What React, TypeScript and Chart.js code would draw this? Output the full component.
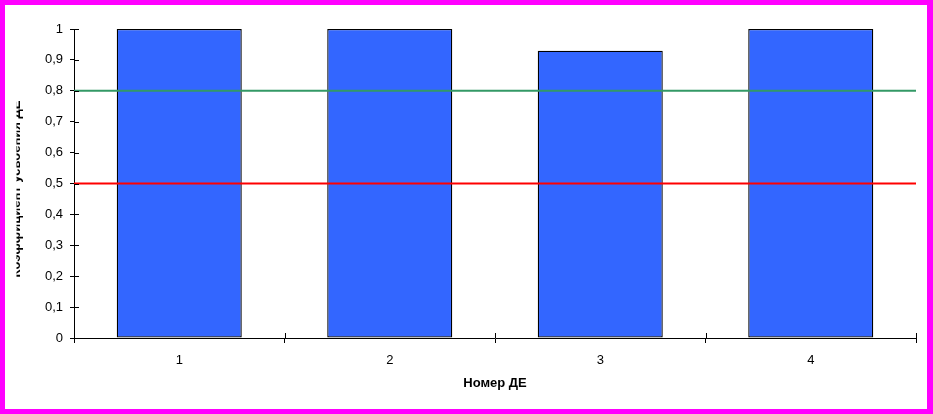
import React, { useEffect, useRef } from 'react';
import { Chart, registerables } from 'chart.js';

Chart.register(...registerables);

const categories = ['1', '2', '3', '4'];
const coefficients = [1, 1, 0.93, 1];
const upperThreshold = 0.8;
const lowerThreshold = 0.5;
const yTickLabels = ['0', '0,1', '0,2', '0,3', '0,4', '0,5', '0,6', '0,7', '0,8', '0,9', '1'];
const xTitle = 'Номер ДЕ';
const yTitle = 'Коэффициент усвоения ДЕ';

const FONT = '"Liberation Sans", Arial, sans-serif';

// value positions on the hidden linear axis: category i occupies [i, i+1]
const barPoints = coefficients.map((v, i) => ({ x: i + 0.5, y: v }));
const span = [0, categories.length];

const decorPlugin = {
  id: 'decor',
  afterDraw(chart: any) {
    const { ctx, chartArea, scales, width, height } = chart;
    ctx.save();
    // inward parts of the tick marks
    ctx.strokeStyle = '#000';
    ctx.lineWidth = 1;
    ctx.beginPath();
    scales.y.ticks.forEach((_t: any, i: number) => {
      const py = Math.round(scales.y.getPixelForTick(i)) + 0.5;
      ctx.moveTo(chartArea.left, py);
      ctx.lineTo(chartArea.left + 5, py);
    });
    for (let i = 0; i <= categories.length; i++) {
      const px = Math.round(scales.x.getPixelForValue(i - 0.5)) + 0.5;
      ctx.moveTo(px, chartArea.bottom);
      ctx.lineTo(px, chartArea.bottom - 5);
    }
    ctx.stroke();

    // clipped vertical axis title
    ctx.save();
    ctx.beginPath();
    ctx.rect(16.5, 0, 60, height);
    ctx.clip();
    ctx.translate(19.5, 189);
    ctx.rotate(-Math.PI / 2);
    ctx.font = 'bold 13px ' + FONT;
    ctx.fillStyle = '#000';
    ctx.textAlign = 'center';
    ctx.textBaseline = 'alphabetic';
    ctx.fillText(yTitle, 0, 0);
    ctx.restore();

    // magenta frame
    ctx.fillStyle = '#FF00FF';
    ctx.fillRect(0, 0, width, 5);
    ctx.fillRect(0, 0, 5, height);
    ctx.fillRect(width - 6, 0, 6, height);
    ctx.fillRect(0, height - 5, width, 5);
    ctx.restore();
  },
};

export default function App() {
  const ref = useRef<HTMLCanvasElement>(null);

  useEffect(() => {
    if (!ref.current) return;
    const chart = new Chart(ref.current, {
      type: 'bar',
      data: {
        labels: categories,
        datasets: [
          {
            type: 'bar',
            data: barPoints,
            xAxisID: 'xv',
            yAxisID: 'y',
            backgroundColor: '#3366FF',
            borderColor: '#000000',
            borderWidth: 1.3,
            borderSkipped: false,
            categoryPercentage: 1,
            barPercentage: 0.594,
            order: 1,
          } as any,
          {
            type: 'line',
            data: span.map((x) => ({ x, y: upperThreshold })),
            xAxisID: 'xv',
            yAxisID: 'y',
            borderColor: '#339966',
            borderWidth: 2,
            pointRadius: 0,
            order: 0,
          } as any,
          {
            type: 'line',
            data: span.map((x) => ({ x, y: lowerThreshold })),
            xAxisID: 'xv',
            yAxisID: 'y',
            borderColor: '#FF0000',
            borderWidth: 2,
            pointRadius: 0,
            order: 0,
          } as any,
        ],
      },
      options: {
        responsive: false,
        animation: false,
        layout: { padding: { top: 29, right: 17, left: 0, bottom: 0 } },
        plugins: {
          legend: { display: false },
          tooltip: { enabled: false },
        },
        scales: {
          x: {
            type: 'category',
            offset: true,
            grid: {
              offset: true,
              drawOnChartArea: false,
              drawTicks: true,
              tickLength: 5,
              color: '#000',
            },
            border: { display: true, color: '#000', width: 1 },
            ticks: {
              color: '#000',
              font: { family: FONT, size: 13 },
              padding: 10,
              maxRotation: 0,
            },
            title: {
              display: true,
              text: xTitle,
              color: '#000',
              font: { family: FONT, size: 13, weight: 'bold' },
              padding: { top: 0, bottom: 23 },
            },
            afterFit: (s: any) => {
              s.height = 76;
            },
          },
          xv: {
            type: 'linear',
            axis: 'x',
            position: 'bottom',
            min: span[0],
            max: span[1],
            offset: false,
            grid: { offset: false },
            ticks: { stepSize: 1 },
            display: false,
          },
          y: {
            type: 'linear',
            min: 0,
            max: 1,
            ticks: {
              stepSize: 0.1,
              color: '#000',
              font: { family: FONT, size: 13 },
              padding: 7,
              callback: (_v: any, i: number) => yTickLabels[i],
            },
            grid: {
              drawOnChartArea: false,
              drawTicks: true,
              tickLength: 4,
              color: '#000',
            },
            border: { display: true, color: '#000', width: 1 },
            afterFit: (s: any) => {
              s.width = 74;
            },
          },
        },
      } as any,
      plugins: [decorPlugin],
    });
    return () => chart.destroy();
  }, []);

  return (
    <div style={{ position: 'fixed', left: 0, top: 0, width: 933, height: 414, background: '#fff' }}>
      <canvas ref={ref} width={933} height={414} style={{ display: 'block' }} />
    </div>
  );
}
